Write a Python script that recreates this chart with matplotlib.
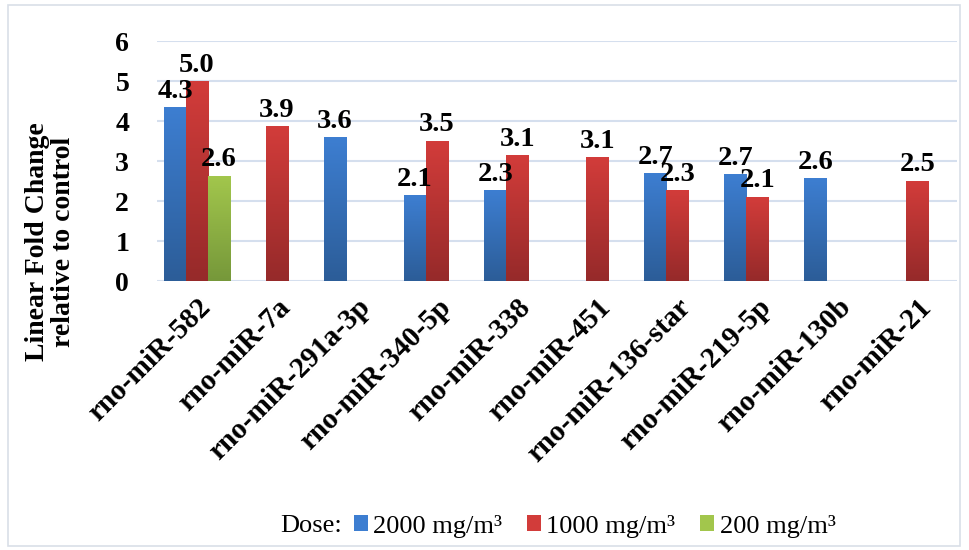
import numpy as np
import matplotlib.pyplot as plt
from matplotlib.patches import Patch, Rectangle
from matplotlib.colors import LinearSegmentedColormap

plt.rcParams['font.family'] = ['Liberation Serif', 'DejaVu Serif']

categories = ['rno-miR-582', 'rno-miR-7a', 'rno-miR-291a-3p', 'rno-miR-340-5p',
              'rno-miR-338', 'rno-miR-451', 'rno-miR-136-star', 'rno-miR-219-5p',
              'rno-miR-130b', 'rno-miR-21']
nan = np.nan
dose_2000 = [4.33, nan, 3.58, 2.14, 2.26, nan, 2.68, 2.66, 2.56, nan]
dose_1000 = [4.98, 3.86, nan, 3.50, 3.14, 3.08, 2.26, 2.10, nan, 2.50]
dose_200 = [2.62, nan, nan, nan, nan, nan, nan, nan, nan, nan]
series = [('2000 mg/m³', dose_2000, '#3d7ed1', '#2c5d98'),
          ('1000 mg/m³', dose_1000, '#d23c3a', '#962a2a'),
          ('200 mg/m³', dose_200, '#a2c64c', '#76983a')]

fig = plt.figure(figsize=(9.69, 5.5), dpi=100)
ax = fig.add_axes([0.162, 0.489, 0.826, 0.436])

x = np.arange(len(categories))
width = 0.275

for i, (name, vals, top, bottom) in enumerate(series):
    cmap = LinearSegmentedColormap.from_list(name, [bottom, top])
    grad = np.linspace(0, 1, 100).reshape(-1, 1)
    bars = ax.bar(x + (i - 1) * width, vals, width, color='none', edgecolor='none')
    for b, v in zip(bars, vals):
        if np.isnan(v):
            continue
        x0, w, h = b.get_x(), b.get_width(), b.get_height()
        ax.imshow(grad, cmap=cmap, origin='lower', aspect='auto',
                  extent=(x0, x0 + w, 0, h), zorder=2)
        ax.text(x0 + w / 2, h + 0.1, f'{v:.1f}', ha='center', va='bottom',
                fontsize=20.5, fontweight='bold', zorder=3)

ax.set_xlim(-0.5, len(categories) - 0.5)
ax.set_ylim(0, 6)
ax.set_yticks(range(7))
ax.yaxis.grid(True, color='#d5dfee', linewidth=1.5, zorder=0)
ax.set_axisbelow(True)
for s in ax.spines.values():
    s.set_visible(False)
ax.tick_params(axis='both', length=0)
ax.tick_params(axis='y', pad=20, labelsize=20)
for t in ax.get_yticklabels():
    t.set_fontweight('bold')
ax.set_xticks(x)
ax.set_xticklabels(categories, rotation=45, ha='right', rotation_mode='anchor',
                   fontsize=21, fontweight='bold')
ax.tick_params(axis='x', pad=9)

fig.text(0.052, 1 - 242 / 550, 'Linear Fold Change\nrelative to control',
         rotation=90, ha='center', va='center', fontsize=20, fontweight='bold',
         linespacing=1.05)

handles = [Patch(facecolor=(s[2]), edgecolor='none') for s in series]
fig.text(0.289, 1 - 526 / 550, 'Dose:', ha='left', va='center', fontsize=19)
fig.legend(handles, [s[0] for s in series], loc='center left',
           bbox_to_anchor=(0.365, 1 - 526 / 550), ncol=3, frameon=False,
           fontsize=19, handlelength=0.53, handleheight=0.53, handletextpad=0.2,
           columnspacing=0.95, borderpad=0, borderaxespad=0)

fig.patches.append(Rectangle((8 / 969, 4 / 550), 952 / 969, 541 / 550,
                             transform=fig.transFigure, fill=False,
                             edgecolor='#d9dfe8', linewidth=1.2))

fig.savefig('out.png', dpi=100)
